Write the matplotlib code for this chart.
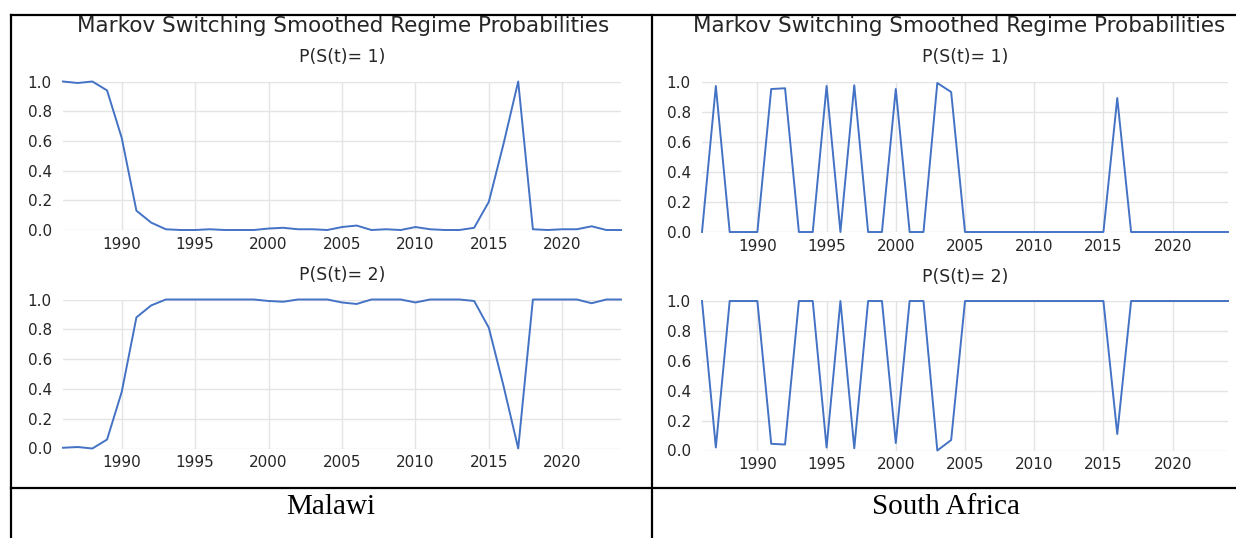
import matplotlib
matplotlib.use('Agg')
import matplotlib.pyplot as plt
from matplotlib.lines import Line2D

plt.rcParams['font.family'] = ['DejaVu Sans']

W, H = 1236, 538

years = list(range(1986, 2025))

# Malawi smoothed probabilities
malawi_p1 = [1.0, 0.99, 1.0, 0.94, 0.62, 0.13, 0.05, 0.005, 0.0, 0.0,
             0.005, 0.0, 0.0, 0.0, 0.01, 0.015, 0.005, 0.005, 0.0, 0.02,
             0.03, 0.0, 0.005, 0.0, 0.02, 0.005, 0.0, 0.0, 0.015, 0.19,
             0.58, 1.0, 0.005, 0.0, 0.005, 0.005, 0.025, 0.0, 0.0]
malawi_p2 = [0.005, 0.01, 0.0, 0.06, 0.38, 0.88, 0.96, 1.0, 1.0, 1.0,
             1.0, 1.0, 1.0, 1.0, 0.99, 0.985, 1.0, 1.0, 1.0, 0.98,
             0.97, 1.0, 1.0, 1.0, 0.98, 1.0, 1.0, 1.0, 0.99, 0.81,
             0.42, 0.0, 1.0, 1.0, 1.0, 1.0, 0.975, 1.0, 1.0]

# South Africa smoothed probabilities
sa_p1 = [0.0, 0.97, 0.0, 0.0, 0.0, 0.95, 0.955, 0.0, 0.0, 0.97,
         0.0, 0.975, 0.0, 0.0, 0.95, 0.0, 0.0, 0.99, 0.93, 0.0,
         0.0, 0.0, 0.0, 0.0, 0.0, 0.0, 0.0, 0.0, 0.0, 0.0,
         0.89, 0.0, 0.0, 0.0, 0.0, 0.0, 0.0, 0.0, 0.0]
sa_p2 = [1.0, 0.02, 1.0, 1.0, 1.0, 0.045, 0.04, 1.0, 1.0, 0.02,
         1.0, 0.015, 1.0, 1.0, 0.05, 1.0, 1.0, 0.0, 0.07, 1.0,
         1.0, 1.0, 1.0, 1.0, 1.0, 1.0, 1.0, 1.0, 1.0, 1.0,
         0.11, 1.0, 1.0, 1.0, 1.0, 1.0, 1.0, 1.0, 1.0]

xticks = [1990, 1995, 2000, 2005, 2010, 2015, 2020]
yticks = [0.0, 0.2, 0.4, 0.6, 0.8, 1.0]
title = 'Markov Switching Smoothed Regime Probabilities'
countries = ['Malawi', 'South Africa']

BLUE = '#4472C4'
GRID = '#e4e4e4'
TXT = '#262626'


def fx(x):
    return x / W


def fy(y):
    return 1 - y / H


def panel(fig, left, right, top, bottom, data, sub):
    ax = fig.add_axes([fx(left), fy(bottom), fx(right - left), (bottom - top) / H])
    ax.plot(years, data, color=BLUE, lw=1.4, clip_on=False)
    ax.set_xlim(1986, 2024)
    ax.set_ylim(0, 1)
    ax.set_xticks(xticks)
    ax.set_yticks(yticks)
    ax.set_yticklabels(['%.1f' % v for v in yticks])
    ax.tick_params(length=0, labelsize=11, colors=TXT)
    ax.tick_params(axis='x', pad=5)
    ax.tick_params(axis='y', pad=8)
    for s in ax.spines.values():
        s.set_visible(False)
    ax.grid(True, color=GRID, lw=1)
    ax.set_axisbelow(True)
    fig.text(fx((left + right) / 2), fy(top - 24), sub, ha='center', va='center',
             fontsize=12.5, color=TXT)
    return ax


fig = plt.figure(figsize=(W / 100, H / 100), dpi=100)

# Malawi
fig.text(fx(343), fy(26.5), title, ha='center', va='center', fontsize=15.5, color=TXT)
panel(fig, 63, 621, 81.5, 230, malawi_p1, 'P(S(t)= 1)')
panel(fig, 63, 621, 299.5, 448.5, malawi_p2, 'P(S(t)= 2)')

# South Africa
fig.text(fx(693), fy(26.5), title, ha='left', va='center', fontsize=15.5, color=TXT)
panel(fig, 702, 1228, 81.5, 232, sa_p1, 'P(S(t)= 1)')
panel(fig, 702, 1228, 301, 450.5, sa_p2, 'P(S(t)= 2)')

# table frame
kw = dict(color='black', lw=1.6)
fig.add_artist(Line2D([fx(11), 1], [fy(15), fy(15)], **kw))
fig.add_artist(Line2D([fx(11), 1], [fy(488), fy(488)], **kw))
fig.add_artist(Line2D([fx(11), fx(11)], [0, fy(15)], **kw))
fig.add_artist(Line2D([fx(651.5), fx(651.5)], [0, fy(15)], **kw))

fig.text(fx(331), fy(507), countries[0], ha='center', va='center',
         fontsize=21, family='Liberation Serif')
fig.text(fx(946), fy(507), countries[1], ha='center', va='center',
         fontsize=21, family='Liberation Serif')

fig.savefig('out.png', dpi=100)
